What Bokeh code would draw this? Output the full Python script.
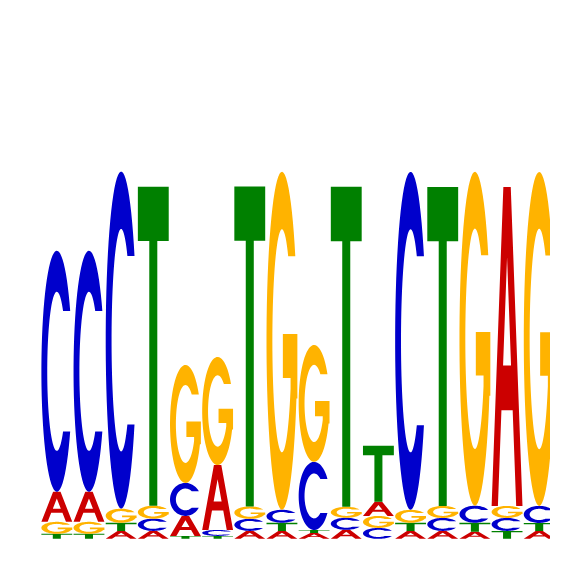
import numpy as np
from bokeh.embed import file_html
from bokeh.models import ColumnDataSource, Range1d
from bokeh.plotting import figure
from bokeh.resources import INLINE

positions = list(range(1, 17))

# stacking order of the letters in each column, bottom to top
stack_order = ["TGAC", "TGAC", "ATGC", "ACGT", "TACG", "TCAG", "ACGT", "ATCG",
               "ATCG", "ACGT", "CGAT", "ATGC", "ACGT", "ATCG", "TCGA", "ATCG"]

# letter heights (bits) per position
bits_A = [0.162, 0.162, 0.043, 0.043, 0.108, 0.351, 0.043, 0.043,
          0.032, 0.049, 0.076, 0.043, 0.043, 0.038, 1.724, 0.043]
bits_C = [1.303, 1.303, 1.822, 0.066, 0.178, 0.032, 0.065, 0.070,
          0.368, 0.065, 0.059, 1.827, 0.070, 0.092, 0.070, 0.092]
bits_G = [0.065, 0.065, 0.076, 0.070, 0.638, 0.584, 0.067, 1.827,
          0.632, 0.059, 0.065, 0.070, 0.065, 1.805, 0.065, 1.805]
bits_T = [0.027, 0.027, 0.044, 1.724, 0.016, 0.016, 1.730, 0.044,
          0.016, 1.730, 0.303, 0.044, 1.724, 0.049, 0.043, 0.043]

HEIGHTS = {"A": bits_A, "C": bits_C, "G": bits_G, "T": bits_T}
COLORS = {"A": "#CC0000", "C": "#0000CC", "G": "#FFB300", "T": "#008000"}

LETTER_WIDTH = 0.96


def arc(rx, ry, a0, a1, n=64):
    t = np.radians(np.linspace(a0, a1, n))
    return list(0.5 + rx * np.cos(t)), list(0.5 + ry * np.sin(t))


# glyph outlines in a unit box: list of rings (exterior first, then holes)
IN_RX, IN_RY, TERM = 0.31, 0.33, 30
PHI1 = np.degrees(np.arcsin(0.5 * np.sin(np.radians(TERM)) / IN_RY))


def shape_C():
    ox, oy = arc(0.5, 0.5, TERM, 360 - TERM)
    ix, iy = arc(IN_RX, IN_RY, 360 - PHI1, PHI1)
    return [(ox + ix, oy + iy)]


def shape_G():
    ox, oy = arc(0.5, 0.5, TERM, 340)
    phi_g = np.degrees(np.arccos(0.28 / IN_RX))
    ix, iy = arc(IN_RX, IN_RY, 360 - phi_g, PHI1)
    bx = [1.0, 1.0, 0.53, 0.53, 0.78]
    by = [oy[-1], 0.52, 0.52, 0.39, 0.39]
    return [(ox + bx + ix, oy + by + iy)]


def shape_T():
    x = [0, 1, 1, 0.63, 0.63, 0.37, 0.37, 0]
    y = [1, 1, 0.83, 0.83, 0, 0, 0.83, 0.83]
    return [(x, y)]


def shape_A():
    x = [0, 0.38, 0.62, 1, 0.796, 0.682, 0.318, 0.204]
    y = [0, 1, 1, 0, 0, 0.30, 0.30, 0]
    hx = [0.371, 0.5, 0.629]
    hy = [0.44, 0.78, 0.44]
    return [(x, y), (hx, hy)]


SHAPES = {"A": shape_A(), "C": shape_C(), "G": shape_G(), "T": shape_T()}

xs, ys, colors = [], [], []
for i, pos in enumerate(positions):
    base = 0.0
    for letter in stack_order[i]:
        h = HEIGHTS[letter][i]
        rings_x, rings_y = [], []
        for ux, uy in SHAPES[letter]:
            rings_x.append([pos - LETTER_WIDTH / 2 + LETTER_WIDTH * u for u in ux])
            rings_y.append([base + h * v for v in uy])
        xs.append([rings_x])
        ys.append([rings_y])
        colors.append(COLORS[letter])
        base += h

source = ColumnDataSource(data=dict(xs=xs, ys=ys, color=colors))

p = figure(width=550, height=550, output_backend="svg", toolbar_location=None,
           x_axis_type=None, y_axis_type=None, min_border=0,
           x_range=Range1d(-0.751, 16.351), y_range=Range1d(-0.063, 2.910))
p.multi_polygons(xs="xs", ys="ys", fill_color="color", line_color=None, source=source)
p.xgrid.visible = False
p.ygrid.visible = False
p.outline_line_color = None
p.background_fill_color = "white"
p.border_fill_color = "white"

open("out.html", "w").write(file_html(p, INLINE))
